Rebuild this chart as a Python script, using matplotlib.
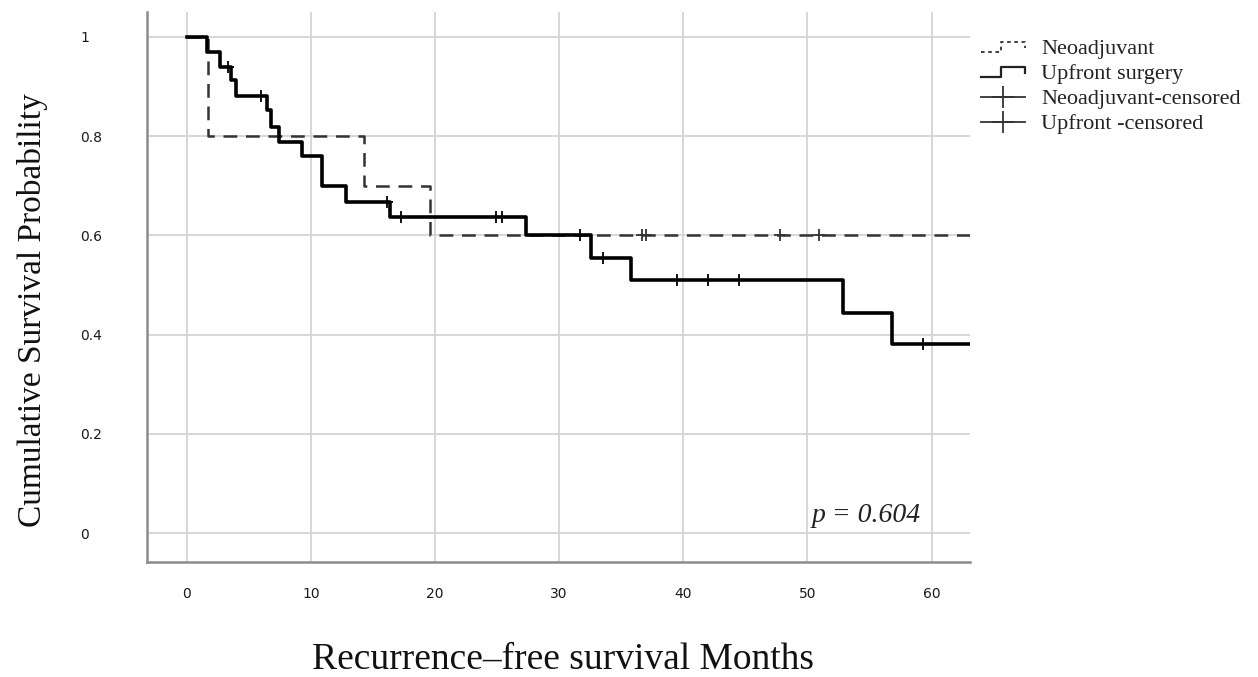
import numpy as np
import matplotlib
matplotlib.use("Agg")
import matplotlib.pyplot as plt
from matplotlib.lines import Line2D
from matplotlib.legend_handler import HandlerBase

# ---- data ----
upfront_times = [0, 1.6, 2.7, 3.6, 4.0, 6.5, 6.75, 7.4, 9.3, 10.9, 12.8, 16.35, 27.3, 32.6, 35.8, 52.9, 56.8]
upfront_surv = [1.0, 0.970, 0.940, 0.913, 0.881, 0.853, 0.819, 0.789, 0.760, 0.700, 0.668, 0.637, 0.600, 0.555, 0.510, 0.444, 0.381]
upfront_censored = [3.3, 6.0, 16.1, 17.3, 24.9, 25.4, 31.7, 33.5, 39.5, 42.0, 44.5, 59.3]

neo_times = [0, 1.7, 14.3, 19.6]
neo_surv = [1.0, 0.800, 0.700, 0.600]
neo_censored = [36.7, 37.0, 47.8, 50.9]

follow_up_end = 63.5

x_ticks = [0, 10, 20, 30, 40, 50, 60]
y_ticks = [0, 0.2, 0.4, 0.6, 0.8, 1.0]
y_ticklabels = ["0", "0.2", "0.4", "0.6", "0.8", "1"]
legend_labels = ["Neoadjuvant", "Upfront surgery", "Neoadjuvant-censored", "Upfront -censored"]
p_text = "p = 0.604"


def step_xy(times, surv, end):
    xs = list(times) + [end]
    ys = list(surv) + [surv[-1]]
    return xs, ys


def surv_at(times, surv, t):
    idx = np.searchsorted(np.asarray(times), t, side="right") - 1
    return np.asarray(surv)[idx]


fig = plt.figure(figsize=(12.58, 6.77), dpi=100)
ax = fig.add_axes([147 / 1258, 1 - 562 / 677, (970 - 147) / 1258, (562 - 12) / 677])

grid_c = "#d4d4d4"
for xt in x_ticks:
    ax.axvline(xt, color=grid_c, lw=1.3, zorder=0)
for yt in y_ticks:
    ax.axhline(yt, color=grid_c, lw=1.3, zorder=0)

dash_style = (0, (5.5, 3.5))
nx, ny = step_xy(neo_times, neo_surv, follow_up_end)
ax.step(nx, ny, where="post", color="#333333", lw=1.8, linestyle=dash_style, zorder=3)
ux, uy = step_xy(upfront_times, upfront_surv, follow_up_end)
ax.step(ux, uy, where="post", color="black", lw=2.6, zorder=4)

ax.plot(neo_censored, surv_at(neo_times, neo_surv, neo_censored), linestyle="none",
        marker="+", ms=9, mew=1.3, color="#333333", zorder=5)
ax.plot(upfront_censored, surv_at(upfront_times, upfront_surv, upfront_censored), linestyle="none",
        marker="+", ms=9, mew=1.3, color="black", zorder=5)

ax.set_xlim(-3.2, 63.1)
ax.set_ylim(-0.058, 1.05)
ax.set_xticks(x_ticks)
ax.set_xticklabels([str(v) for v in x_ticks])
ax.set_yticks(y_ticks)
ax.set_yticklabels(y_ticklabels)
ax.tick_params(axis="both", length=0, labelsize=10, colors="#1a1a1a")
ax.tick_params(axis="x", pad=18)
ax.tick_params(axis="y", pad=48)
for lab in ax.get_yticklabels():
    lab.set_horizontalalignment("left")
for s in ["top", "right"]:
    ax.spines[s].set_visible(False)
for s in ["left", "bottom"]:
    ax.spines[s].set_color("#8c8c8c")
    ax.spines[s].set_linewidth(1.8)

serif = ["Liberation Serif", "DejaVu Serif"]
fig.text(33 / 1258, 1 - 310 / 677, "Cumulative Survival Probability", rotation=90,
         ha="center", va="center", fontsize=24, family=serif, color="#111111")
fig.text(563 / 1258, 1 - 660 / 677, "Recurrence\u2013free survival Months",
         ha="center", va="center", fontsize=27, family=serif, color="#111111")
ax.text(59.1, 0.036, p_text, ha="right", va="center", fontsize=20, style="italic",
        family=serif, color="#222222")


class StepHandler(HandlerBase):
    def __init__(self, ls, color, lw):
        super().__init__()
        self.ls, self.color, self.lw = ls, color, lw

    def create_artists(self, legend, orig_handle, xdescent, ydescent, width, height, fontsize, trans):
        x0 = -xdescent
        y0 = -ydescent
        xs = [x0, x0 + 0.45 * width, x0 + 0.45 * width, x0 + width, x0 + width]
        ys = [y0 + 0.15 * height, y0 + 0.15 * height, y0 + 0.8 * height, y0 + 0.8 * height, y0 + 0.4 * height]
        ln = Line2D(xs, ys, color=self.color, lw=self.lw, linestyle=self.ls, transform=trans)
        return [ln]


class CensorHandler(HandlerBase):
    def create_artists(self, legend, orig_handle, xdescent, ydescent, width, height, fontsize, trans):
        x0 = -xdescent
        y0 = -ydescent
        ln = Line2D([x0, x0 + width], [y0 + height / 2] * 2, color="#333333", lw=1.3, transform=trans)
        mk = Line2D([x0 + width / 2], [y0 + height / 2], marker="+", ms=16, mew=1.3,
                    color="#333333", linestyle="none", transform=trans)
        return [ln, mk]


h1, h2, h3, h4 = object(), object(), object(), object()
leg = fig.legend([h1, h2, h3, h4], legend_labels,
                 handler_map={h1: StepHandler((0, (2, 2)), "#333333", 1.3),
                              h2: StepHandler("-", "#222222", 1.6),
                              h3: CensorHandler(), h4: CensorHandler()},
                 loc="upper left", bbox_to_anchor=(972 / 1258, 1 - 30 / 677),
                 frameon=False, prop={"family": serif, "size": 16},
                 handlelength=2.0, handletextpad=0.7, labelspacing=0.2, borderaxespad=0)
for t in leg.get_texts():
    t.set_color("#222222")

fig.savefig("out.png", dpi=100)
